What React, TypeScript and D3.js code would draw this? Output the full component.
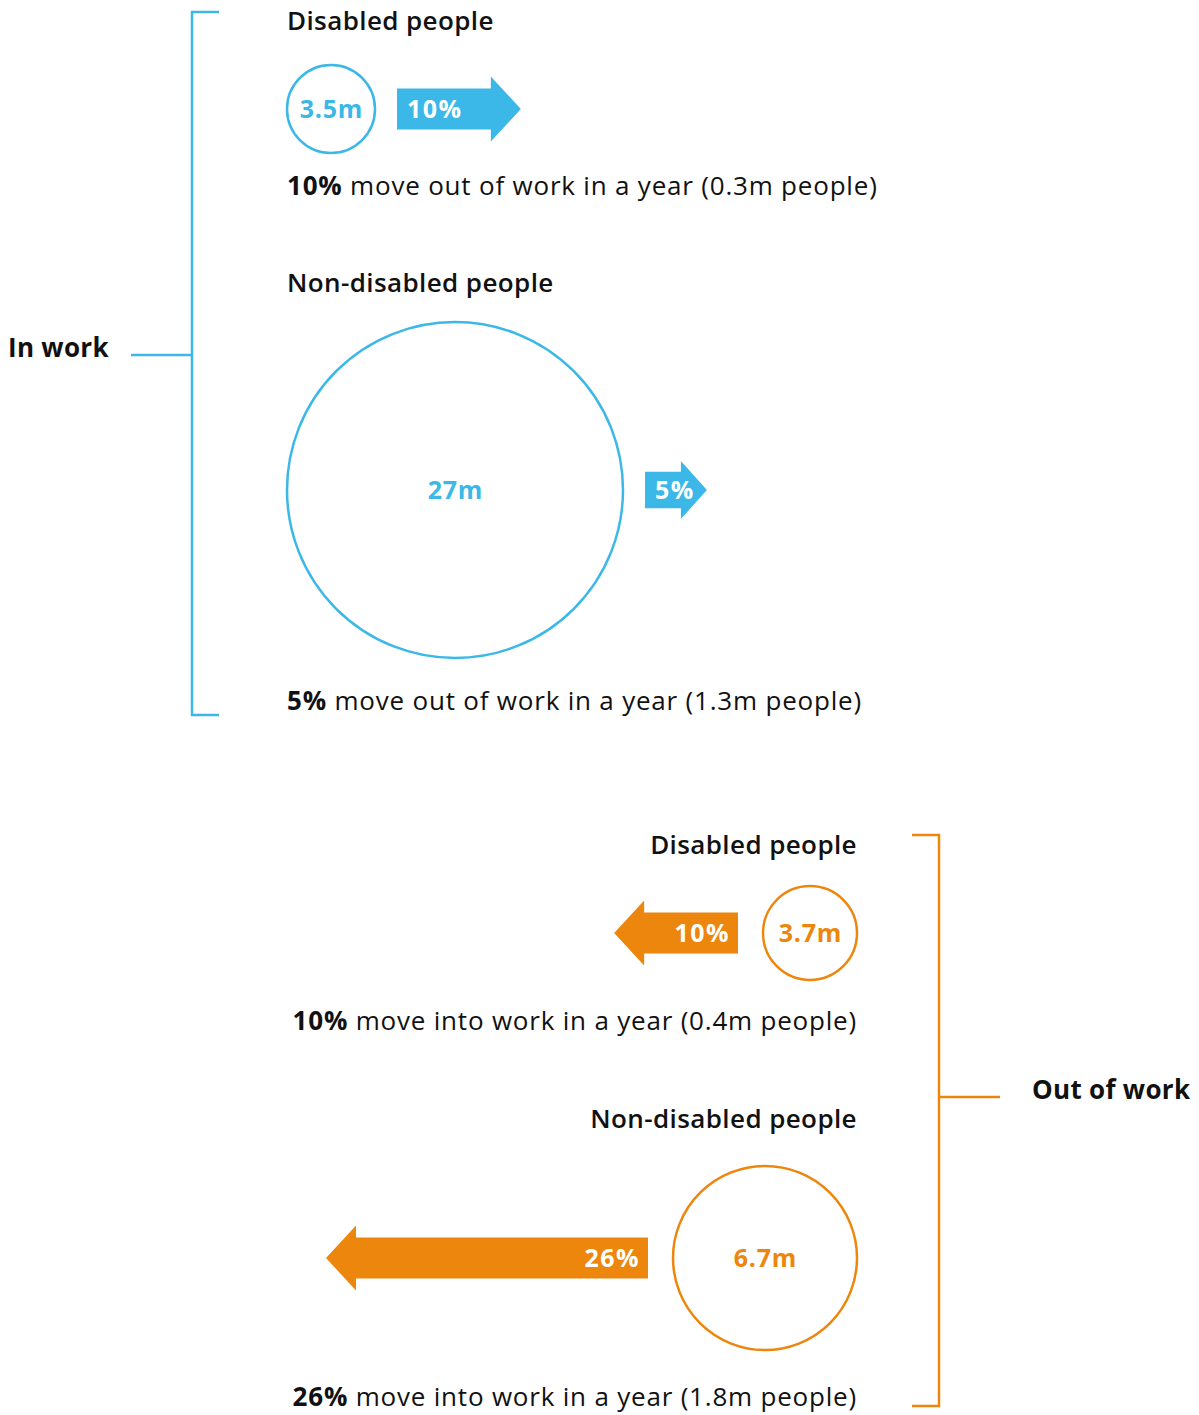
import * as d3 from 'd3';

// Data
const groups = ['In work', 'Out of work'];
const categories = ['Disabled people', 'Non-disabled people'];
const populations = [
    [3.5, 27],   // in work (millions)
    [3.7, 6.7],  // out of work (millions)
];
const rates = [
    [10, 5],     // % moving out of work in a year
    [10, 26],    // % moving into work in a year
];
const moved = [
    [0.3, 1.3],
    [0.4, 1.8],
];
const verbs = ['move out of work', 'move into work'];

const BLUE = '#3bb8e8';
const ORANGE = '#ec860c';
const FONT = "'Open Sans', Lato, 'DejaVu Sans', sans-serif";

const width = 1199;
const height = 1415;

// Layout (per group, per category)
const titleY = [[30, 292], [854, 1128]];
const rowY = [[109, 490], [933, 1258]];
const captionY = [[195, 710], [1030, 1406]];
const bracket = [
    { x: 192, y0: 12, y1: 715, mid: 355, tickDir: 1, midTo: 131, labelX: 8 },
    { x: 939, y0: 835, y1: 1406, mid: 1097, tickDir: -1, midTo: 1000, labelX: 1032 },
];

// Scales
const rScale = d3.scaleLinear().domain([0, 3.5, 6.7, 27]).range([0, 44, 92, 168]);
const arrowScale = d3.scaleLinear().domain([0, 26]).range([0, 322]);

const line = d3.line();

function arrowPath(x0: number, x1: number, cy: number) {
    const len = Math.abs(x1 - x0);
    const f = Math.min(1, 0.62 + len / 230);
    const h = 20.5 * f;
    const H = 32.5 * f;
    const L = Math.min(30, len * 0.42);
    const s = x1 > x0 ? 1 : -1;
    const pts: [number, number][] = [
        [x0, cy - h],
        [x1 - s * L, cy - h],
        [x1 - s * L, cy - H],
        [x1, cy],
        [x1 - s * L, cy + H],
        [x1 - s * L, cy + h],
        [x0, cy + h],
    ];
    return line(pts) + 'Z';
}

export default function App() {
    const gap = [22, 25];
    const leftEdge = 287;
    const rightEdge = 857;

    return (
        <svg
            width={width}
            height={height}
            style={{ position: 'absolute', left: 0, top: 0, display: 'block', fontFamily: FONT }}
        >
            {groups.map((grp, gi) => {
                const color = gi === 0 ? BLUE : ORANGE;
                const b = bracket[gi];
                const outward = gi === 0;
                return (
                    <g key={grp}>
                        {/* bracket */}
                        <path
                            d={`M${b.x + 27 * b.tickDir},${b.y0}H${b.x}V${b.y1}H${b.x + 27 * b.tickDir}M${b.x},${b.mid}H${b.midTo}`}
                            fill="none"
                            stroke={color}
                            strokeWidth={2.5}
                        />
                        <text x={b.labelX} y={b.mid + 2} fontSize={26} fontWeight={700} letterSpacing={0.3} fill="#111">
                            {grp}
                        </text>

                        {categories.map((cat, ci) => {
                            const r = rScale(populations[gi][ci]);
                            const cy = rowY[gi][ci];
                            const cx = outward ? leftEdge + r : rightEdge - r;
                            const len = arrowScale(rates[gi][ci]);
                            const ax0 = outward ? cx + r + gap[gi] : cx - r - gap[gi];
                            const ax1 = outward ? ax0 + len : ax0 - len;
                            const textX = outward ? leftEdge : rightEdge;
                            const anchor = outward ? 'start' : 'end';
                            return (
                                <g key={cat}>
                                    <text x={textX} y={titleY[gi][ci]} fontSize={26} fontWeight={600} letterSpacing={0.4} fill="#111" textAnchor={anchor}>
                                        {cat}
                                    </text>
                                    <circle cx={cx} cy={cy} r={r} fill="none" stroke={color} strokeWidth={2.5} />
                                    <text x={cx + 0.4} y={cy + 9} fontSize={25} fontWeight={700} letterSpacing={0.8} fill={color} textAnchor="middle">
                                        {`${populations[gi][ci]}m`}
                                    </text>
                                    <path d={arrowPath(ax0, ax1, cy)} fill={color} />
                                    <text
                                        x={outward ? ax0 + 10 : ax0 - 8}
                                        y={cy + 9}
                                        fontSize={25}
                                        fontWeight={700}
                                        letterSpacing={1.5}
                                        fill="#fff"
                                        textAnchor={anchor}
                                    >
                                        {`${rates[gi][ci]}%`}
                                    </text>
                                    <text x={textX} y={captionY[gi][ci]} fontSize={26} letterSpacing={0.8} fill="#111" textAnchor={anchor}>
                                        <tspan fontWeight={700}>{`${rates[gi][ci]}%`}</tspan>
                                        <tspan>{` ${verbs[gi]} in a year (${moved[gi][ci]}m people)`}</tspan>
                                    </text>
                                </g>
                            );
                        })}
                    </g>
                );
            })}
        </svg>
    );
}
